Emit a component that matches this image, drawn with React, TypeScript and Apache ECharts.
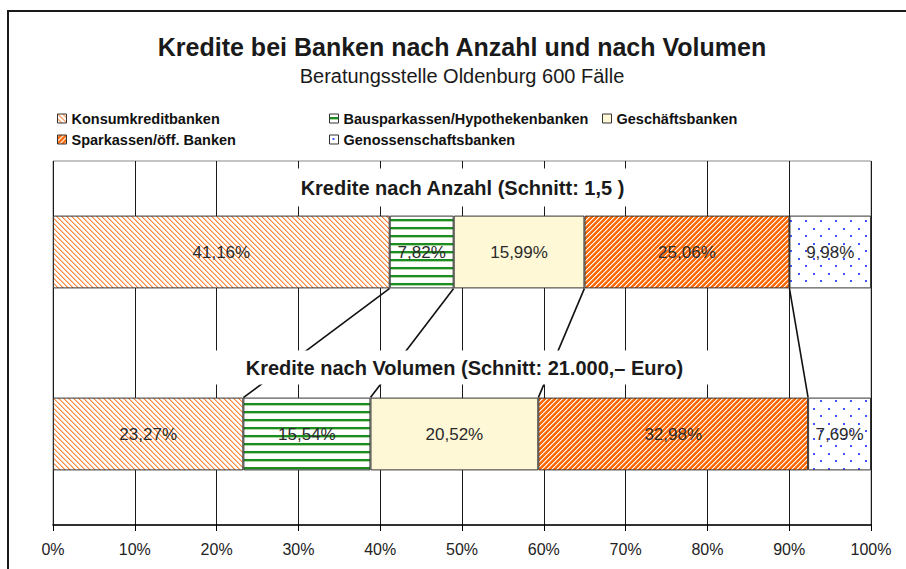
import React, { useEffect, useRef } from 'react';
import * as echarts from 'echarts';

const categories = ['Kredite nach Anzahl', 'Kredite nach Volumen'];
const seriesNames = [
  'Konsumkreditbanken',
  'Bausparkassen/Hypothekenbanken',
  'Geschäftsbanken',
  'Sparkassen/öff. Banken',
  'Genossenschaftsbanken',
];
const anzahl = [41.16, 7.82, 15.99, 25.06, 9.98];
const volumen = [23.27, 15.54, 20.52, 32.98, 7.69];
const xMin = 0;
const xMax = 100;
const xStep = 10;
const titleText = 'Kredite bei Banken nach Anzahl und nach Volumen';
const subtitleText = 'Beratungsstelle Oldenburg 600 Fälle';
const anzahlLabel = 'Kredite nach Anzahl (Schnitt: 1,5 )';
const volumenLabel = 'Kredite nach Volumen (Schnitt: 21.000,– Euro)';

const FONT = '"Liberation Sans", Arial, Helvetica, sans-serif';

function tile(w: number, h: number, fn: (x: number, y: number) => string) {
  const c = document.createElement('canvas');
  c.width = w;
  c.height = h;
  const ctx = c.getContext('2d')!;
  for (let y = 0; y < h; y++) {
    for (let x = 0; x < w; x++) {
      ctx.fillStyle = fn(x, y);
      ctx.fillRect(x, y, 1, 1);
    }
  }
  return { image: c, repeat: 'repeat', imageWidth: w, imageHeight: h } as any;
}

function makeFills() {
  const konsum = tile(5, 5, (x, y) => {
    const d = (x - y + 10) % 5;
    return d === 0 ? '#FF8a3e' : d === 1 ? '#FFC09A' : '#FFFFFF';
  });
  const bauspar = tile(8, 8, (x, y) =>
    y === 3 || y === 4 ? '#1E8C1E' : y === 5 ? '#A9D9A9' : '#FFFFFF'
  );
  const geschaeft = '#FFF8D6';
  const sparkasse = tile(5, 5, (x, y) => {
    const d = (x + y) % 5;
    return d === 0 ? '#FFFFFF' : d === 1 ? '#FFB27A' : '#FF6A06';
  });
  const genossen = tile(15, 15, (x, y) =>
    ((x === 3 || x === 4) && (y === 3 || y === 4)) ||
    ((x === 10 || x === 11) && (y === 10 || y === 11))
      ? '#4455FF'
      : '#FFFFFF'
  );
  return [konsum, bauspar, geschaeft, sparkasse, genossen];
}

function cumulative(arr: number[]) {
  const out: number[] = [];
  let s = 0;
  for (let i = 0; i < arr.length - 1; i++) {
    s += arr[i];
    out.push(s);
  }
  return out;
}

export default function App() {
  const ref = useRef<HTMLDivElement>(null);
  useEffect(() => {
    if (!ref.current) return;
    const chart = echarts.init(ref.current, null, { renderer: 'svg' });
    const fills = makeFills();
    const topCum = cumulative(anzahl);
    const botCum = cumulative(volumen);
    const connectorData = topCum.map((v, i) => [v, botCum[i], 0]);

    const legendCommon = {
      orient: 'vertical',
      top: 111,
      itemWidth: 9,
      itemHeight: 9,
      itemGap: 6,
      padding: 0,
      icon: 'rect',
      selectedMode: false,
      textStyle: { fontSize: 14.5, fontWeight: 'bold', color: '#111', fontFamily: FONT },
      itemStyle: { borderColor: '#333', borderWidth: 1 },
    };

    const barSeries = seriesNames.map((name, i) => ({
      name,
      type: 'bar',
      stack: 'total',
      barCategoryGap: '60%',
      data: [anzahl[i], volumen[i]],
      itemStyle: { color: fills[i], borderColor: '#333', borderWidth: 1 },
      label: {
        show: true,
        position: 'inside',
        fontSize: 17,
        color: '#2a2a2a',
        fontFamily: FONT,
        formatter: (p: any) => p.value.toFixed(2).replace('.', ',') + '%',
      },
      z: 2,
    }));

    const option: any = {
      animation: false,
      textStyle: { fontFamily: FONT },
      title: [
        {
          text: titleText,
          left: 462,
          top: 34,
          textAlign: 'center',
          padding: 0,
          textStyle: { fontSize: 25, fontWeight: 'bold', color: '#1a1a1a', fontFamily: FONT },
        },
        {
          text: subtitleText,
          left: 462,
          top: 66,
          textAlign: 'center',
          padding: 0,
          textStyle: { fontSize: 20, fontWeight: 'normal', color: '#1a1a1a', fontFamily: FONT },
        },
      ],
      legend: [
        { ...legendCommon, left: 57, data: [seriesNames[0], seriesNames[3]] },
        { ...legendCommon, left: 329, data: [seriesNames[1], seriesNames[4]] },
        { ...legendCommon, left: 602, data: [seriesNames[2]] },
      ],
      grid: {
        left: 53,
        right: 35,
        top: 161,
        bottom: 44,
        show: true,
        borderColor: '#888',
        borderWidth: 1,
        backgroundColor: 'transparent',
      },
      xAxis: {
        type: 'value',
        min: xMin,
        max: xMax,
        interval: xStep,
        axisLine: { show: true, lineStyle: { color: '#000', width: 1.5 } },
        axisTick: { show: true, length: 6, lineStyle: { color: '#000', width: 1 } },
        axisLabel: { formatter: '{value}%', fontSize: 16, margin: 16, color: '#222', fontFamily: FONT },
        splitLine: { show: true, lineStyle: { color: '#1a1a1a', width: 1 } },
      },
      yAxis: {
        type: 'category',
        data: categories,
        inverse: true,
        axisLine: { show: false },
        axisTick: { show: false },
        axisLabel: { show: false },
        splitLine: { show: false },
      },
      series: [
        ...barSeries,
        {
          type: 'custom',
          name: 'Verbindungslinien',
          coordinateSystem: 'cartesian2d',
          silent: true,
          encode: { x: [0, 1], y: 2 },
          data: connectorData,
          z: 3,
          renderItem: (params: any, api: any) => {
            const top = api.coord([api.value(0), 0]);
            const bot = api.coord([api.value(1), 1]);
            const band = api.size([0, 1])[1];
            const half = band * 0.2;
            return {
              type: 'line',
              shape: { x1: top[0], y1: top[1] + half, x2: bot[0], y2: bot[1] - half },
              style: { stroke: '#111', lineWidth: 1.6 },
            };
          },
        },
      ],
      graphic: [
        {
          type: 'rect',
          shape: { x: 8, y: 11, width: 1200, height: 1200 },
          style: { fill: 'none', stroke: '#1a1a1a', lineWidth: 2 },
          z: 0,
          silent: true,
        },
        {
          type: 'text',
          x: 462.5,
          y: 187.5,
          z: 100,
          style: {
            text: anzahlLabel,
            font: `bold 20px ${FONT}`,
            fill: '#1a1a1a',
            align: 'center',
            verticalAlign: 'middle',
            backgroundColor: '#fff',
            padding: [9, 20],
          },
        },
        {
          type: 'text',
          x: 464.5,
          y: 367.5,
          z: 100,
          style: {
            text: volumenLabel,
            font: `bold 20px ${FONT}`,
            fill: '#1a1a1a',
            align: 'center',
            verticalAlign: 'middle',
            backgroundColor: '#fff',
            padding: [7, 36],
          },
        },
      ],
    };
    chart.setOption(option);
    return () => chart.dispose();
  }, []);
  return (
    <div
      ref={ref}
      style={{ position: 'fixed', left: 0, top: 0, width: 906, height: 569, background: '#fff' }}
    />
  );
}
